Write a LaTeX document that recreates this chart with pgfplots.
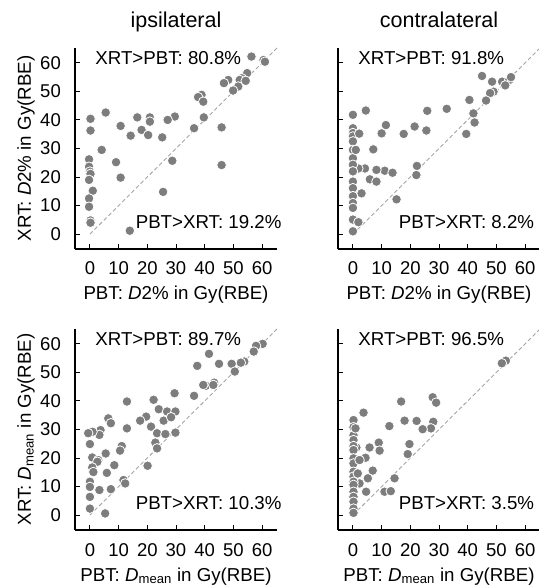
\documentclass[border=0pt]{standalone}
\usepackage{pgfplots}
\pgfplotsset{compat=1.18}
\usepackage{fontspec}
\setmainfont{Liberation Sans}
\definecolor{dot}{RGB}{125,125,125}
\definecolor{diag}{RGB}{165,165,165}

\pgfplotsset{
  panel/.style={
    scale only axis, width=202pt, height=201pt,
    xmin=-5.2,xmax=65.2,ymin=-5.2,ymax=65.2,
    clip=false,
    axis x line*=bottom, axis y line*=left,
    x axis line style={-}, y axis line style={-},
    axis line style={line width=1.3pt},
    xtick={0,10,...,60}, ytick={0,10,...,60},
    tick align=inside,
    major tick length=4.5pt,
    every tick/.style={black, line width=1pt},
    tick label style={font=\fontsize{18.5}{20}\selectfont, inner sep=0pt},
    xticklabel style={anchor=base, yshift=-26pt},
    yticklabel style={anchor=east, xshift=-14pt},
    /pgf/number format/assume math mode=true,
    every axis x label/.style={at={([yshift=-51pt]axis description cs:0.5,0)}, anchor=base, font=\fontsize{18.7}{20}\selectfont, inner sep=0pt},
    every axis y label/.style={at={([xshift=-44pt]axis description cs:0,0.5)}, rotate=90, anchor=base, font=\fontsize{18.7}{20}\selectfont, inner sep=0pt},
    every axis title/.style={at={([yshift=20pt]axis description cs:0.5,1)}, anchor=base, font=\fontsize{21.5}{24}\selectfont, inner sep=0pt},
  },
  diagline/.style={color=diag, dashed, dash pattern=on 4pt off 2.5pt, line width=0.9pt, no markers},
  pts/.style={only marks, mark=*, mark size=4.8pt, mark options={fill=dot, draw=white, line width=0.8pt}},
}
\newcommand{\anno}[2]{%
  \node[anchor=base west, inner sep=0pt, font=\fontsize{18.7}{20}\selectfont] at (rel axis cs:0.1,0.917) {#1};
  \node[anchor=base west, inner sep=0pt, font=\fontsize{18.7}{20}\selectfont] at (rel axis cs:0.3,0.1) {#2};
}

\begin{document}
\begin{tikzpicture}
\path[use as bounding box] (0,0) rectangle (538pt,588pt);

% ---------------- ipsilateral D2%
\begin{axis}[panel, at={(75pt,339pt)}, anchor=south west,
  title={ipsilateral},
  xlabel={PBT: \textit{D}2\% in Gy(RBE)},
  ylabel={XRT: \textit{D}2\% in Gy(RBE)}]
\addplot[diagline] coordinates {(0,0) (65.2,65.2)};
\addplot[pts] coordinates {
(56.3,62.2) (60.5,61.0) (61.0,60.4) (54.8,56.4) (52.9,54.6) (52.2,54.0) (54.3,53.7)
(48.2,54.0) (46.7,52.9) (51.7,51.7) (49.9,50.3) (38.9,48.8) (37.7,48.0) (39.5,46.4)
(39.7,40.9) (36.3,37.1) (45.9,37.4) (45.9,24.2) (29.6,41.2) (27.1,40.0) (25.2,33.9)
(28.7,25.7) (25.5,14.8) (20.9,40.9) (20.9,39.4) (16.5,40.9) (18.0,36.5) (20.3,34.7)
(14.2,34.5) (10.7,37.9) (5.5,42.6) (4.1,29.5) (9.1,25.2) (10.7,19.8) (13.9,1.2)
(0.2,40.4) (0.2,36.3) (-0.3,26.2) (-0.3,23.6) (0,21.9) (0.2,21.1) (-0.3,19.0)
(1.0,15.2) (-0.3,12.5) (-0.3,9.6) (0.2,4.8) (0.2,4.0)
};
\anno{XRT>PBT: 80.8\%}{PBT>XRT: 19.2\%}
\end{axis}

% ---------------- contralateral D2%
\begin{axis}[panel, at={(338pt,339pt)}, anchor=south west,
  title={contralateral}, yticklabels={},
  xlabel={PBT: \textit{D}2\% in Gy(RBE)}]
\addplot[diagline] coordinates {(0,0) (65.2,65.2)};
\addplot[pts] coordinates {
(45.0,55.4) (48.5,53.4) (52.0,53.4) (54.5,54.0) (55.1,55.0) (53.1,52.1)
(49.0,49.9) (47.8,49.4) (46.4,46.8) (40.6,47.0) (42.0,42.3) (42.4,39.1) (39.5,35.1)
(32.7,43.9) (25.9,43.2) (25.6,36.3) (21.5,37.7) (17.7,35.1) (11.5,38.2) (10.0,35.3)
(4.5,43.3) (7.1,29.7) (22.3,23.9) (22.1,20.7) (15.2,12.2) (11.1,22.2) (13.8,21.5)
(8.2,22.5) (5.9,19.2) (8.2,18.4) (4.2,23.0) (3.0,14.3) (1.9,23.0)
(0.0,41.8) (0.0,37.1) (0.0,35.4) (0.0,34.2) (0.0,32.5) (0.0,29.5) (0.0,26.6)
(0.0,24.3) (0.0,22.0) (0.0,18.4) (0.0,16.1) (0.0,13.3) (0.0,10.9) (0.0,9.2)
(0.0,5.1) (0.0,1.0) (2.2,35.2) (1.9,4.2) (1.0,29.5)
};
\anno{XRT>PBT: 91.8\%}{PBT>XRT: 8.2\%}
\end{axis}

% ---------------- ipsilateral Dmean
\begin{axis}[panel, at={(75pt,58pt)}, anchor=south west,
  xlabel={PBT: \textit{D}\textsubscript{mean} in Gy(RBE)},
  ylabel={XRT: \textit{D}\textsubscript{mean} in Gy(RBE)}]
\addplot[diagline] coordinates {(0,0) (65.2,65.2)};
\addplot[pts] coordinates {
(60.2,60.0) (57.9,59.3) (57.1,57.3) (41.5,56.5) (53.8,53.8) (52.6,53.4) (49.4,53.0)
(45.0,53.0) (37.4,52.3) (50.5,50.3) (43.3,46.4) (40.4,45.3) (43.0,45.6) (39.5,45.6)
(29.5,42.7) (36.3,41.8) (22.2,40.4) (12.9,39.8) (24.0,37.1) (26.9,36.3) (29.8,36.3)
(25.7,33.1) (28.3,34.3) (19.6,34.5) (17.5,33.1) (21.3,31.0) (23.4,28.7) (26.3,28.4)
(29.8,28.9) (12.9,30.4) (6.4,33.9) (7.3,32.2) (3.7,29.8) (3.3,28.1) (0.9,29.2)
(-0.6,28.7) (0.0,24.9) (22.8,25.4) (23.4,23.4) (11.1,24.2) (10.5,22.6) (5.5,21.6)
(0.8,20.2) (2.9,19.3) (2.6,18.7) (0.8,16.7) (8.5,17.5) (5.9,14.8) (1.2,15.1)
(20.1,17.3) (11.7,12.3) (12.3,11.1) (7.3,9.1) (3.3,8.8) (0.0,11.7) (0.0,9.9)
(0.0,6.4) (0.0,2.3) (5.3,0.6)
};
\anno{XRT>PBT: 89.7\%}{PBT>XRT: 10.3\%}
\end{axis}

% ---------------- contralateral Dmean
\begin{axis}[panel, at={(338pt,58pt)}, anchor=south west, yticklabels={},
  xlabel={PBT: \textit{D}\textsubscript{mean} in Gy(RBE)}]
\addplot[diagline] coordinates {(0,0) (65.2,65.2)};
\addplot[pts] coordinates {
(53.3,54.1) (51.9,53.2) (27.8,41.3) (29.0,39.4) (16.8,39.8) (3.7,35.9) (18.0,33.1)
(22.2,33.0) (28.0,32.7) (27.2,30.4) (24.3,30.1) (12.7,31.2) (9.0,25.4) (9.3,22.6)
(5.8,23.7) (1.2,23.7) (19.7,24.9) (19.1,21.4) (4.4,20.1) (6.9,15.6) (5.2,12.9)
(2.3,11.1) (14.5,12.9) (11.0,8.2) (13.2,8.4) (4.6,8.2)
(0.2,33.3) (0.2,30.8) (0.2,28.0) (0.2,26.3) (0.2,24.2) (0.2,22.8) (0.2,19.9)
(0.2,18.1) (0.2,15.2) (0.2,13.5) (0.2,11.7) (0.2,10.6) (0.2,8.2) (0.2,6.4)
(0.2,4.7) (0.2,2.3) (0.2,0.8) (0.9,30.4) (2.3,19.3) (1.7,14.6)
};
\anno{XRT>PBT: 96.5\%}{PBT>XRT: 3.5\%}
\end{axis}
\end{tikzpicture}
\end{document}
